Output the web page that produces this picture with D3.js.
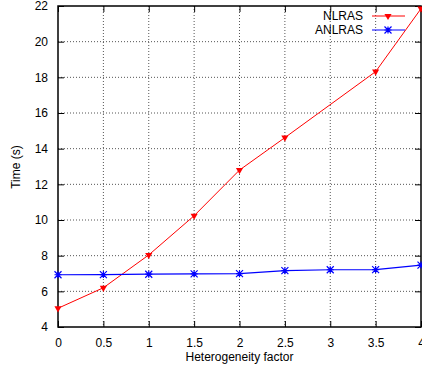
<!DOCTYPE html>
<html>
<head>
<meta charset="utf-8">
<script src="https://cdn.jsdelivr.net/npm/d3@7"></script>
<style>
  body { margin: 0; background: #fff; }
  svg text { font-family: "Liberation Sans", Arial, sans-serif; font-size: 12px; fill: #000; }
</style>
</head>
<body>
<div id="chart"></div>
<script>
const xTicks = [0, 0.5, 1, 1.5, 2, 2.5, 3, 3.5, 4];
const yTicks = [4, 6, 8, 10, 12, 14, 16, 18, 20, 22];

const nlrasX = [0, 0.5, 1, 1.5, 2, 2.5, 3.5, 4];
const nlrasY = [5.05, 6.2, 8.04, 10.24, 12.8, 14.62, 18.32, 21.85];

const anlrasX = [0, 0.5, 1, 1.5, 2, 2.5, 3, 3.5, 4];
const anlrasY = [6.93, 6.94, 6.96, 6.98, 6.99, 7.16, 7.21, 7.22, 7.47];

const W = 422, H = 370;
const margin = { top: 6, right: 1, bottom: 43, left: 58 };
const w = W - margin.left - margin.right;
const h = H - margin.top - margin.bottom;

const svg = d3.select("#chart").append("svg")
  .attr("width", W).attr("height", H);

const g = svg.append("g")
  .attr("transform", "translate(" + margin.left + "," + margin.top + ")");

const x = d3.scaleLinear().domain([0, 4]).range([0, w]);
const y = d3.scaleLinear().domain([4, 22]).range([h, 0]);

// grid
g.selectAll(".gx").data(xTicks.slice(1, -1)).enter().append("line")
  .attr("x1", d => x(d)).attr("x2", d => x(d))
  .attr("y1", 0).attr("y2", h)
  .attr("stroke", "#555").attr("stroke-width", 1).attr("stroke-dasharray", "1,2");
g.selectAll(".gy").data(yTicks.slice(1, -1)).enter().append("line")
  .attr("x1", 0).attr("x2", w)
  .attr("y1", d => y(d)).attr("y2", d => y(d))
  .attr("stroke", "#555").attr("stroke-width", 1).attr("stroke-dasharray", "1,2");

// axes (ticks inward, mirrored)
const fmt = d => String(d);
g.append("g").attr("transform", `translate(0,${h})`)
  .call(d3.axisBottom(x).tickValues(xTicks).tickFormat(fmt).tickSize(-6).tickPadding(11))
  .call(a => a.select(".domain").remove());
g.append("g")
  .call(d3.axisLeft(y).tickValues(yTicks).tickFormat(fmt).tickSize(-6).tickPadding(10))
  .call(a => a.select(".domain").remove());
g.append("g")
  .call(d3.axisTop(x).tickValues(xTicks).tickFormat("").tickSize(-6))
  .call(a => a.select(".domain").remove());
g.append("g").attr("transform", `translate(${w},0)`)
  .call(d3.axisRight(y).tickValues(yTicks).tickFormat("").tickSize(-6))
  .call(a => a.select(".domain").remove());
g.selectAll(".tick line").attr("stroke", "#000");
g.selectAll(".tick text").style("font-size", "12px").attr("fill", "#000");

// frame
g.append("rect").attr("x", 0).attr("y", 0).attr("width", w).attr("height", h)
  .attr("fill", "none").attr("stroke", "#000").attr("stroke-width", 1.5);

const line = d3.line().x(d => x(d[0])).y(d => y(d[1]));
const nl = nlrasX.map((v, i) => [v, nlrasY[i]]);
const an = anlrasX.map((v, i) => [v, anlrasY[i]]);

g.append("path").datum(nl).attr("d", line)
  .attr("fill", "none").attr("stroke", "#ff0000").attr("stroke-width", 1);
g.append("path").datum(an).attr("d", line)
  .attr("fill", "none").attr("stroke", "#0000ff").attr("stroke-width", 1.2);

const tri = d3.symbol().type(d3.symbolTriangle).size(22);
function drawTri(sel, px, py) {
  sel.append("path").attr("d", tri)
    .attr("transform", `translate(${px},${py}) rotate(180)`)
    .attr("fill", "#ff0000");
}
function drawStar(sel, px, py) {
  const s = 3.5;
  const p = `M${px - s},${py}L${px + s},${py}M${px},${py - s}L${px},${py + s}` +
    `M${px - s},${py - s}L${px + s},${py + s}M${px - s},${py + s}L${px + s},${py - s}`;
  sel.append("path").attr("d", p).attr("stroke", "#0000ff").attr("stroke-width", 1.2).attr("fill", "none");
}
nl.forEach(d => drawTri(g, x(d[0]), y(d[1])));
an.forEach(d => drawStar(g, x(d[0]), y(d[1])));

// legend
const leg = svg.append("g");
leg.append("text").attr("x", 363).attr("y", 20).attr("text-anchor", "end").text("NLRAS");
leg.append("line").attr("x1", 372).attr("x2", 405).attr("y1", 16).attr("y2", 16)
  .attr("stroke", "#ff0000").attr("stroke-width", 1);
drawTri(leg, 388, 16);
leg.append("text").attr("x", 363).attr("y", 34).attr("text-anchor", "end").text("ANLRAS");
leg.append("line").attr("x1", 372).attr("x2", 405).attr("y1", 30).attr("y2", 30)
  .attr("stroke", "#0000ff").attr("stroke-width", 1.2);
drawStar(leg, 388, 30);

// axis titles
svg.append("text").attr("x", margin.left + w / 2).attr("y", 361)
  .attr("text-anchor", "middle").text("Heterogeneity factor");
svg.append("text").attr("transform", "translate(20,167) rotate(-90)")
  .attr("text-anchor", "middle").text("Time (s)");
</script>
</body>
</html>
